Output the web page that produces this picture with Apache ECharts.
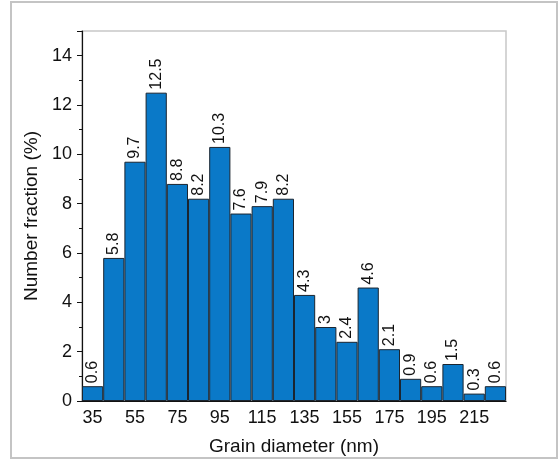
<!DOCTYPE html>
<html>
<head>
<meta charset="utf-8">
<script src="https://cdn.jsdelivr.net/npm/echarts@6/dist/echarts.min.js"></script>
<style>
  html, body { margin: 0; padding: 0; background: #fff; }
  #chart { width: 560px; height: 461px; }
</style>
</head>
<body>
<div id="chart"></div>
<script>
  // bin centres (nm) and number fraction (%)
  var binCenters = ['35','45','55','65','75','85','95','105','115','125','135','145','155','165','175','185','195','205','215','225'];
  var fractions = [0.6, 5.8, 9.7, 12.5, 8.8, 8.2, 10.3, 7.6, 7.9, 8.2, 4.3, 3, 2.4, 4.6, 2.1, 0.9, 0.6, 1.5, 0.3, 0.6];

  var barColor = '#0a79c8';
  var fontName = 'Liberation Sans';

  var myChart = echarts.init(document.getElementById('chart'));
  var option = {
    animation: false,
    textStyle: { fontFamily: fontName },
    graphic: [{
      type: 'rect',
      shape: { x: 11, y: 2, width: 546, height: 456 },
      style: { fill: 'none', stroke: '#c4c4c4', lineWidth: 2 },
      silent: true
    }],
    grid: {
      left: 82, right: 54, top: 31, bottom: 57,
      show: true, borderColor: '#c8c8c8', borderWidth: 1.5
    },
    xAxis: [{
      type: 'category',
      data: binCenters,
      position: 'bottom',
      boundaryGap: true,
      name: 'Grain diameter (nm)',
      nameLocation: 'middle',
      nameGap: 36,
      nameTextStyle: { fontSize: 19, color: '#111' },
      axisLine: { lineStyle: { color: '#111', width: 1.2 } },
      axisTick: { alignWithLabel: true, interval: 1, length: 5, lineStyle: { color: '#111' } },
      axisLabel: { interval: 1, fontSize: 18, color: '#111', margin: 8 },
      splitLine: { show: false }
    }, {
      type: 'category',
      data: binCenters,
      position: 'bottom',
      boundaryGap: true,
      axisLine: { show: false },
      axisTick: { alignWithLabel: true, interval: 0, length: 3, lineStyle: { color: '#111' } },
      axisLabel: { show: false },
      splitLine: { show: false }
    }],
    yAxis: {
      type: 'value',
      min: 0, max: 15, interval: 2,
      name: 'Number fraction (%)',
      nameLocation: 'middle',
      nameGap: 41,
      nameTextStyle: { fontSize: 19, color: '#111' },
      axisLine: { show: true, lineStyle: { color: '#111', width: 1.2 } },
      axisTick: { show: true, length: 5, lineStyle: { color: '#111' } },
      minorTick: { show: true, splitNumber: 2, length: 3, lineStyle: { color: '#111' } },
      axisLabel: { fontSize: 18, color: '#111', margin: 10, showMaxLabel: false },
      splitLine: { show: false }
    },
    series: [{
      type: 'bar',
      data: fractions,
      barCategoryGap: '0%',
      itemStyle: { color: barColor, borderColor: '#1b2530', borderWidth: 1 },
      label: {
        show: true,
        position: 'top',
        rotate: 90,
        align: 'left',
        verticalAlign: 'middle',
        distance: 3,
        fontSize: 16,
        color: '#111'
      }
    }]
  };
  myChart.setOption(option);
</script>
</body>
</html>
